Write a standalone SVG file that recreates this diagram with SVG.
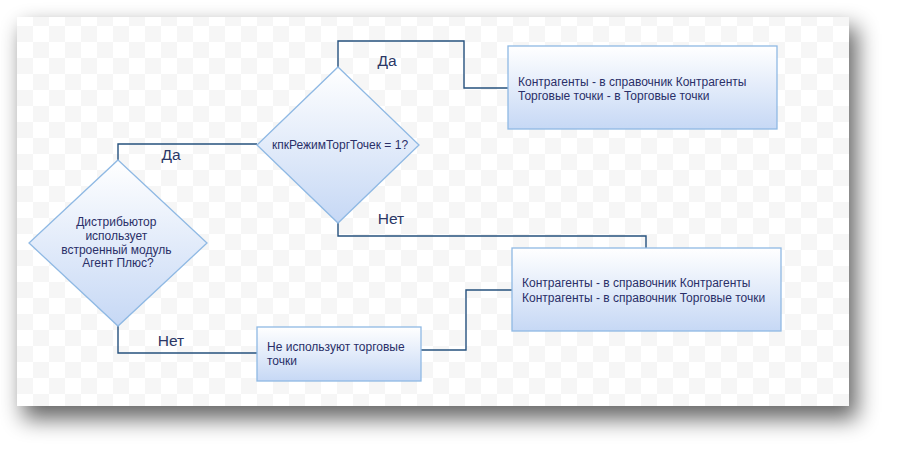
<svg xmlns="http://www.w3.org/2000/svg" width="897" height="454" viewBox="0 0 897 454">
<defs>
<pattern id="chk" x="17" y="10" width="32" height="32" patternUnits="userSpaceOnUse">
<rect width="32" height="32" fill="#ffffff"/>
<rect x="16" y="0" width="16" height="16" fill="#f6f6f6"/>
<rect x="0" y="16" width="16" height="16" fill="#f6f6f6"/>
</pattern>
<linearGradient id="fillg" x1="0" y1="0" x2="0" y2="1">
<stop offset="0" stop-color="#ffffff"/>
<stop offset="1" stop-color="#c6d8f5"/>
</linearGradient>
<filter id="shadow" x="-15%" y="-20%" width="135%" height="150%">
<feGaussianBlur stdDeviation="11"/>
</filter>
</defs>
<style>
.shape{fill:url(#fillg);stroke:#8fb9e4;stroke-width:1.3}
.txt{font-family:"Liberation Sans",Arial,sans-serif;font-size:12px;fill:#2a2f68}
.lbl{font-family:"Liberation Sans",Arial,sans-serif;font-size:15.5px;fill:#2b3766}
.conn{fill:none;stroke:#26517e;stroke-width:1.4}
</style>
<rect x="0" y="0" width="897" height="454" fill="#ffffff"/>
<rect x="23" y="27" width="834" height="392" fill="#000000" opacity="0.6" filter="url(#shadow)"/>
<rect x="17" y="17" width="832" height="389" fill="url(#chk)"/>

<g id="connectors">
<path class="conn" d="M338,67 V41 H464 V88 H508"/>
<path class="conn" d="M118,160 V144 H257"/>
<path class="conn" d="M338,223 V236 H646 V248"/>
<path class="conn" d="M118,326 V353 H257"/>
<path class="conn" d="M421,350 H466 V290 H512"/>
</g>

<g id="labels">
<text class="lbl" x="387" y="66" text-anchor="middle">Да</text>
<text class="lbl" x="171" y="160" text-anchor="middle">Да</text>
<text class="lbl" x="391" y="224" text-anchor="middle">Нет</text>
<text class="lbl" x="171" y="346" text-anchor="middle">Нет</text>
</g>

<g id="decision1">
<polygon class="shape" points="338,67 419,145 338,223 257,145"/>
<text class="txt" x="340" y="149" text-anchor="middle">кпкРежимТоргТочек = 1?</text>
</g>

<g id="decision2">
<polygon class="shape" points="118,160 207,243 118,326 29,243"/>
<text class="txt" text-anchor="middle">
<tspan x="118" y="226">Дистрибьютор</tspan>
<tspan x="118" y="240">использует</tspan>
<tspan x="118" y="254">встроенный модуль</tspan>
<tspan x="118" y="267">Агент Плюс?</tspan>
</text>
</g>

<g id="box1">
<rect class="shape" x="508" y="46" width="269" height="83"/>
<text class="txt">
<tspan x="518" y="86">Контрагенты - в справочник Контрагенты</tspan>
<tspan x="518" y="100">Торговые точки - в Торговые точки</tspan>
</text>
</g>

<g id="box2">
<rect class="shape" x="512" y="248" width="269" height="83"/>
<text class="txt">
<tspan x="522" y="287">Контрагенты - в справочник Контрагенты</tspan>
<tspan x="522" y="302">Контрагенты - в справочник Торговые точки</tspan>
</text>
</g>

<g id="box3">
<rect class="shape" x="257" y="327" width="164" height="54"/>
<text class="txt">
<tspan x="267" y="351">Не используют торговые</tspan>
<tspan x="267" y="365">точки</tspan>
</text>
</g>
</svg>
